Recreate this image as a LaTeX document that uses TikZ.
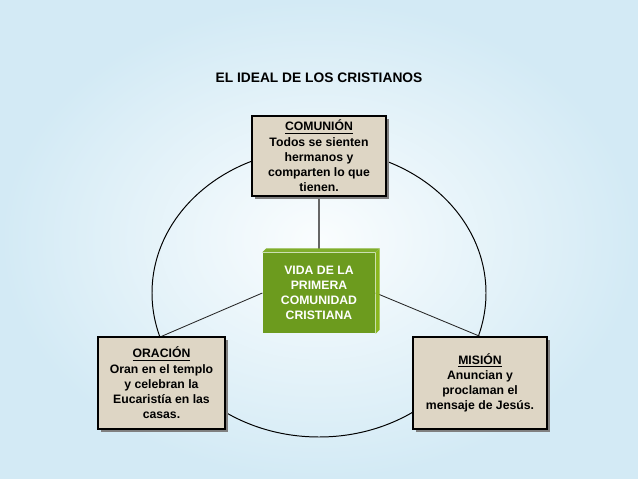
\documentclass[tikz,border=0pt]{standalone}
\usepackage{fontspec}
\setmainfont{Liberation Sans}
\usepackage{xcolor}
\definecolor{skyedge}{RGB}{211,234,245}
\definecolor{skycentre}{RGB}{250,253,254}
\definecolor{paper}{RGB}{222,214,197}
\definecolor{leafgreen}{RGB}{108,155,30}
\definecolor{leaftop}{RGB}{128,174,44}
\definecolor{leafside}{RGB}{138,182,30}
\usepackage{tikz}
\usetikzlibrary{calc}
\usetikzlibrary{shadows}
\usetikzlibrary{backgrounds}
\newcommand{\heading}[1]{\underline{#1}\\}
\newcommand{\widthcard}{3.35cm}
\newcommand{\widthside}{3.175cm}
\newcommand{\heightcard}{2cm}
\newcommand{\heightside}{2.3cm}
\newcommand{\widthcore}{2.8cm}
\tikzset{
    common/.style={draw, rectangle, line width=0.9pt, align=center, inner sep=0pt,
        font=\bfseries\fontsize{8.7}{10.8}\selectfont},
    card/.style={common, fill=paper, minimum width=\widthcard, minimum height=\heightcard,
        drop shadow={shadow xshift=2.2pt, shadow yshift=-2.2pt, fill=black!50, opacity=1}},
    side/.style={card, minimum height=\heightside},
    core/.style={common, draw=none, fill=leafgreen, text=white, minimum width=\widthcore, minimum height=\heightcard},
    ring/.style={line width=0.7pt, black},
    link/.style={line width=0.6pt, black!85},
    stem/.style={line width=1pt, black!60}
}
\begin{document}
\begin{tikzpicture}[x=0.025cm, y=-0.025cm]
    \useasboundingbox (0,0) rectangle (638,479);
    \node[font=\bfseries\fontsize{9.8}{12}\selectfont] (title) at (319,78) {EL IDEAL DE LOS CRISTIANOS};

    \node[card] (comunion) at (319,156) {\heading{COMUNIÓN}Todos se sienten\\hermanos y\\comparten lo que\\tienen.};
    \node[side, minimum width=\widthside] (oracion) at (161.5,383) {\heading{ORACIÓN}Oran en el templo\\y celebran la\\Eucaristía en las\\casas.};
    \node[side] (mision) at (480,383) {\heading{MISIÓN}Anuncian y\\proclaman el\\mensaje de Jesús.};

    \node[core] (vida) at (319,293) {VIDA DE LA\\PRIMERA\\COMUNIDAD\\CRISTIANA};
    \fill[leaftop] (vida.north west) -- ++(4,-4) -- ($(vida.north east)+(4,-4)$) -- (vida.north east) -- cycle;
    \fill[leafside] (vida.north east) -- ++(4,-4) -- ($(vida.south east)+(4,-4)$) -- (vida.south east) -- cycle;

    \begin{scope}[on background layer]
        \shade[inner color=skycentre, outer color=skyedge] (0,0) rectangle (638,479);
        \draw[ring] (vida.center) ellipse [x radius=167, y radius=144];
        \draw[link] (vida.west) -- (oracion.north) (vida.east) -- (mision.north);
        \draw[stem] (comunion) -- (vida);
    \end{scope}
\end{tikzpicture}
\end{document}
